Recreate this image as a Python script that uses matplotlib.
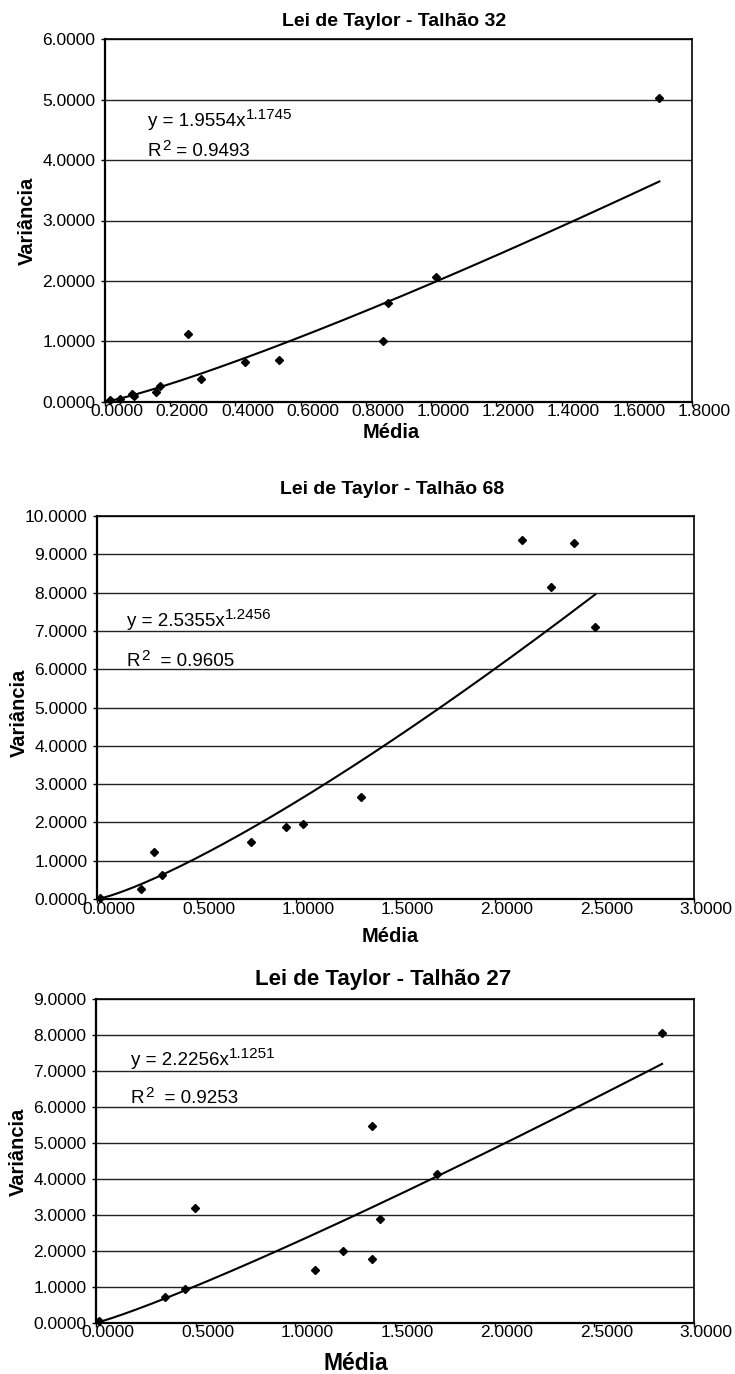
import matplotlib
matplotlib.use('Agg')
import matplotlib.pyplot as plt
from matplotlib.transforms import ScaledTranslation
import numpy as np

plt.rcParams['font.family'] = ['Liberation Sans', 'DejaVu Sans']

# ---------------- data ----------------
t32_title = "Lei de Taylor - Talhão 32"
t32_media = [0.014, 0.045, 0.082, 0.090, 0.155, 0.168, 0.255, 0.293, 0.430, 0.533,
             0.854, 0.868, 1.014, 1.700]
t32_var = [0.020, 0.045, 0.120, 0.095, 0.160, 0.255, 1.115, 0.380, 0.655, 0.685,
           1.005, 1.640, 2.060, 5.020]
t32_a, t32_b, t32_r2 = 1.9554, 1.1745, 0.9493
t32_xticks = [0.0, 0.2, 0.4, 0.6, 0.8, 1.0, 1.2, 1.4, 1.6, 1.8]
t32_yticks = [0, 1, 2, 3, 4, 5, 6]

t68_title = "Lei de Taylor - Talhão 68"
t68_media = [0.015, 0.220, 0.288, 0.328, 0.773, 0.951, 1.037, 1.327, 2.135, 2.279,
             2.398, 2.504]
t68_var = [0.020, 0.250, 1.235, 0.620, 1.500, 1.888, 1.960, 2.665, 9.370, 8.140,
           9.300, 7.100]
t68_a, t68_b, t68_r2 = 2.5355, 1.2456, 0.9605
t68_xticks = [0.0, 0.5, 1.0, 1.5, 2.0, 2.5, 3.0]
t68_yticks = [0, 1, 2, 3, 4, 5, 6, 7, 8, 9, 10]

t27_title = "Lei de Taylor - Talhão 27"
t27_media = [0.015, 0.346, 0.448, 0.497, 1.098, 1.238, 1.386, 1.386, 1.424, 1.713,
             2.840]
t27_var = [0.040, 0.720, 0.940, 3.180, 1.470, 1.990, 5.470, 1.760, 2.880, 4.130,
           8.050]
t27_a, t27_b, t27_r2 = 2.2256, 1.1251, 0.9253
t27_xticks = [0.0, 0.5, 1.0, 1.5, 2.0, 2.5, 3.0]
t27_yticks = [0, 1, 2, 3, 4, 5, 6, 7, 8, 9]

x_label = "Média"
y_label = "Variância"

# ---------------- figure ----------------
W, H = 735, 1374
fig = plt.figure(figsize=(W / 100, H / 100), dpi=100)


def fx(x):
    return x / W


def fy(y):
    return 1 - y / H


panels = [
    dict(title=t32_title, media=t32_media, var=t32_var, a=t32_a, b=t32_b, r2=t32_r2,
         xt=t32_xticks, yt=t32_yticks, box=(105, 692, 39.3, 401.7),
         title_pos=(394, 21.5), title_fs=14, ylab_pos=(27, 221), xlab_pos=(391, 433),
         xlab_fs=14.5, eq_pos=(0.073, 0.76), r2_pos=(0.073, 0.677), r2_sep=" "),
    dict(title=t68_title, media=t68_media, var=t68_var, a=t68_a, b=t68_b, r2=t68_r2,
         xt=t68_xticks, yt=t68_yticks, box=(97, 694, 516, 899),
         title_pos=(392, 490), title_fs=14, ylab_pos=(19, 713), xlab_pos=(390, 937),
         xlab_fs=14.5, eq_pos=(0.05, 0.713), r2_pos=(0.05, 0.608), r2_sep="  "),
    dict(title=t27_title, media=t27_media, var=t27_var, a=t27_a, b=t27_b, r2=t27_r2,
         xt=t27_xticks, yt=t27_yticks, box=(96, 694, 999.3, 1322.7),
         title_pos=(383, 980), title_fs=16, ylab_pos=(18, 1152), xlab_pos=(356, 1363),
         xlab_fs=16.5, eq_pos=(0.058, 0.797), r2_pos=(0.058, 0.679), r2_sep="  "),
]

EQ_FS = 13.5
SUP_FS = 11

for p in panels:
    l, r, t, b = p['box']
    ax = fig.add_axes([fx(l), fy(b), fx(r) - fx(l), fy(t) - fy(b)])
    xt, yt = p['xt'], p['yt']
    ax.set_xlim(xt[0], xt[-1])
    ax.set_ylim(yt[0], yt[-1])

    # gridlines
    ax.set_yticks(yt)
    ax.yaxis.grid(True, color='#222222', linewidth=1.0)
    ax.set_axisbelow(True)
    ax.set_yticklabels([f"{v:.4f}" for v in yt], fontsize=12.5)
    up = ScaledTranslation(0, 2 / 100, fig.dpi_scale_trans)
    for lab in ax.get_yticklabels():
        lab.set_transform(lab.get_transform() + up)
    ax.tick_params(axis='y', length=3, width=1, pad=4, direction='out')

    # x ticks with labels shifted right as in the original
    ax.set_xticks(xt)
    ax.set_xticklabels([])
    ax.tick_params(axis='x', length=3, width=1, direction='out')
    shift = ScaledTranslation(12 / 100, -10 / 100, fig.dpi_scale_trans)
    for v in xt:
        ax.text(v, 0, f"{v:.4f}", transform=ax.get_xaxis_transform() + shift,
                ha='center', va='center', fontsize=12.5, clip_on=False)

    for side in ['left', 'bottom']:
        ax.spines[side].set_linewidth(1.6)
    for side in ['top', 'right']:
        ax.spines[side].set_linewidth(1.2)

    # data points
    ax.plot(p['media'], p['var'], linestyle='none', marker='D', markersize=3.6,
            color='black', zorder=5, clip_on=False)

    # power trendline
    xs = np.linspace(min(p['media']), max(p['media']), 300)
    ax.plot(xs, p['a'] * xs ** p['b'], color='black', linewidth=1.5, zorder=4)

    # equation text: y = a x^b
    eq = ax.text(p['eq_pos'][0], p['eq_pos'][1], f"y = {p['a']:.4f}x",
                 transform=ax.transAxes, ha='left', va='baseline', fontsize=EQ_FS)
    ax.annotate(f"{p['b']:.4f}", xy=(1, 1), xycoords=eq, xytext=(0.5, 3.5),
                textcoords='offset points', ha='left', va='top', fontsize=SUP_FS)

    # R^2 text
    rt = ax.text(p['r2_pos'][0], p['r2_pos'][1], "R",
                 transform=ax.transAxes, ha='left', va='baseline', fontsize=EQ_FS)
    s2 = ax.annotate("2", xy=(1, 1), xycoords=rt, xytext=(1.0, 3.0),
                     textcoords='offset points', ha='left', va='top', fontsize=SUP_FS)
    ax.annotate(f"{p['r2_sep']}= {p['r2']:.4f}", xy=(1, 0), xycoords=(s2, rt),
                xytext=(0, 0), textcoords='offset points', ha='left', va='bottom',
                fontsize=EQ_FS)

    fig.text(fx(p['title_pos'][0]), fy(p['title_pos'][1]), p['title'],
             ha='center', va='center', fontsize=p['title_fs'], fontweight='bold')
    fig.text(fx(p['ylab_pos'][0]), fy(p['ylab_pos'][1]), y_label, rotation=90,
             ha='center', va='center', fontsize=14.5, fontweight='bold')
    fig.text(fx(p['xlab_pos'][0]), fy(p['xlab_pos'][1]), x_label,
             ha='center', va='center', fontsize=p['xlab_fs'], fontweight='bold')

fig.savefig('out.png', dpi=100, facecolor='white')
